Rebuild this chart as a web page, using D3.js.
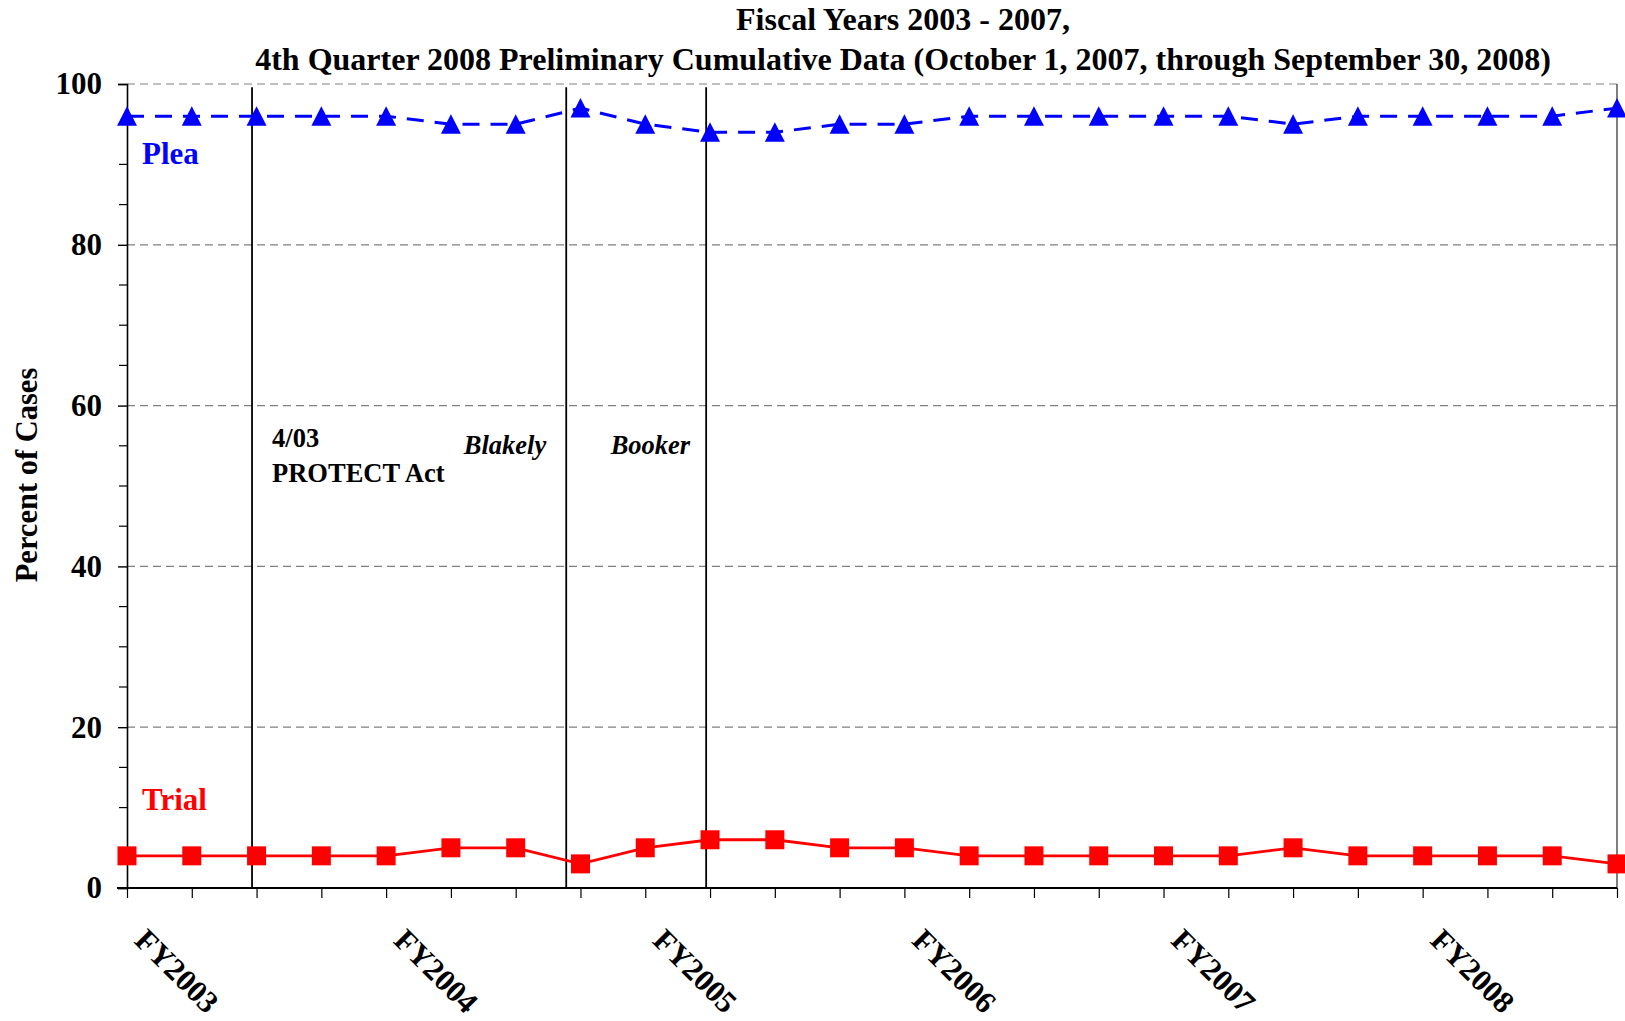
<!DOCTYPE html>
<html>
<head>
<meta charset="utf-8">
<script src="https://cdn.jsdelivr.net/npm/d3@7"></script>
<style>
  html, body { margin: 0; padding: 0; background: #fff; }
  svg { display: block; }
  text { font-family: "Liberation Serif", "Times New Roman", serif; font-weight: bold; }
</style>
</head>
<body>
<svg id="chart" width="1625" height="1021"></svg>
<script>
// ---------- data ----------
const quarters = [
  "FY2003 Q1","FY2003 Q2","FY2003 Q3","FY2003 Q4",
  "FY2004 Q1","FY2004 Q2","FY2004 Q3","FY2004 Q4",
  "FY2005 Q1","FY2005 Q2","FY2005 Q3","FY2005 Q4",
  "FY2006 Q1","FY2006 Q2","FY2006 Q3","FY2006 Q4",
  "FY2007 Q1","FY2007 Q2","FY2007 Q3","FY2007 Q4",
  "FY2008 Q1","FY2008 Q2","FY2008 Q3","FY2008 Q4"
];
const pleaValues  = [96,96,96,96,96,95,95,97,95,94,94,95,95,96,96,96,96,96,95,96,96,96,96,97];
const trialValues = [4,4,4,4,4,5,5,3,5,6,6,5,5,4,4,4,4,4,5,4,4,4,4,3];
const fyLabels = ["FY2003","FY2004","FY2005","FY2006","FY2007","FY2008"];
const fyLabelQuarterIndex = [0,4,8,12,16,20];
const yMajorTicks = [0,20,40,60,80,100];
const yMinorTicks = [5,10,15,25,30,35,45,50,55,65,70,75,85,90,95];
// event dates, as position on the quarter axis
const eventPositions = [1.93, 6.78, 8.94];
const titleLines = [
  "Fiscal Years 2003 - 2007,",
  "4th Quarter 2008 Preliminary Cumulative Data (October 1, 2007, through September 30, 2008)"
];

// ---------- layout ----------
const mLeft = 127, mRight = 1617, mTop = 84, mBottom = 888;
const svg = d3.select("#chart");
svg.append("rect").attr("width",1625).attr("height",1021).attr("fill","#fff");

const x = d3.scaleLinear().domain([0, quarters.length - 1]).range([mLeft, mRight]);
const y = d3.scaleLinear().domain([0, 100]).range([mBottom, mTop]);

// gridlines
svg.append("g").selectAll("line").data(yMajorTicks.filter(d => d > 0)).join("line")
  .attr("x1", mLeft).attr("x2", mRight)
  .attr("y1", d => y(d)).attr("y2", d => y(d))
  .attr("stroke", "#808080").attr("stroke-width", 1.2).attr("stroke-dasharray", "8,5");

// right border
svg.append("line").attr("x1", mRight).attr("x2", mRight).attr("y1", mTop).attr("y2", mBottom)
  .attr("stroke", "#555").attr("stroke-width", 1.5);

// event lines
svg.append("g").selectAll("line").data(eventPositions).join("line")
  .attr("x1", d => x(d)).attr("x2", d => x(d))
  .attr("y1", y(99.6)).attr("y2", mBottom)
  .attr("stroke", "#000").attr("stroke-width", 1.8);

// y axis
const yAxis = d3.axisLeft(y).tickValues(yMajorTicks).tickSize(9).tickPadding(16).tickFormat(d3.format("d"));
const gy = svg.append("g").attr("transform", `translate(${mLeft},0)`).call(yAxis);
gy.select(".domain").attr("stroke", "#000").attr("stroke-width", 1.6);
gy.selectAll(".tick line").attr("stroke", "#000").attr("stroke-width", 1.4);
gy.selectAll(".tick text").attr("font-size", 31).attr("fill", "#000")
  .attr("font-family", "'Liberation Serif', 'Times New Roman', serif").attr("font-weight", "bold");
svg.append("g").selectAll("line").data(yMinorTicks).join("line")
  .attr("x1", mLeft - 8).attr("x2", mLeft)
  .attr("y1", d => y(d)).attr("y2", d => y(d))
  .attr("stroke", "#000").attr("stroke-width", 1.2);

// x axis
const xAxis = d3.axisBottom(x).tickValues(d3.range(quarters.length)).tickSize(10).tickFormat("");
const gx = svg.append("g").attr("transform", `translate(0,${mBottom})`).call(xAxis);
gx.select(".domain").attr("stroke", "#000").attr("stroke-width", 1.8).attr("d", `M${mLeft - 10},0H${mRight}`);
gx.selectAll(".tick line").attr("stroke", "#000").attr("stroke-width", 1.2);

// FY labels
svg.append("g").selectAll("text").data(fyLabels).join("text")
  .attr("transform", (d, i) => `translate(${x(fyLabelQuarterIndex[i]) + 6},942) rotate(45)`)
  .attr("font-size", 31).attr("fill", "#000")
  .text(d => d);

// y axis title
svg.append("text")
  .attr("transform", `translate(37,475) rotate(-90)`)
  .attr("text-anchor", "middle").attr("font-size", 30.5).attr("fill", "#000")
  .text("Percent of Cases");

// title
svg.append("g").selectAll("text").data(titleLines).join("text")
  .attr("x", 903).attr("y", (d, i) => i === 0 ? 30 : 70)
  .attr("text-anchor", "middle").attr("font-size", 32).attr("fill", "#000")
  .text(d => d);

// lines
const line = vals => d3.line().x((d, i) => x(i)).y(d => y(d))(vals);
svg.append("path").attr("d", line(trialValues))
  .attr("fill", "none").attr("stroke", "#FF0000").attr("stroke-width", 2.8);
svg.append("path").attr("d", line(pleaValues))
  .attr("fill", "none").attr("stroke", "#0000FF").attr("stroke-width", 3)
  .attr("stroke-dasharray", "17,11");

// markers
const triangle = { draw(ctx, size) { const s = Math.sqrt(size) / 2;
  ctx.moveTo(0, -s); ctx.lineTo(s, s * 0.95); ctx.lineTo(-s, s * 0.95); ctx.closePath(); } };
svg.append("g").selectAll("path").data(pleaValues).join("path")
  .attr("transform", (d, i) => `translate(${x(i)},${y(d)})`)
  .attr("d", d3.symbol().type(triangle).size(20 * 20))
  .attr("fill", "#0000FF");
svg.append("g").selectAll("path").data(trialValues).join("path")
  .attr("transform", (d, i) => `translate(${x(i)},${y(d)})`)
  .attr("d", d3.symbol().type(d3.symbolSquare).size(19 * 19))
  .attr("fill", "#FF0000");

// series labels
svg.append("text").attr("x", 142).attr("y", 164).attr("font-size", 31).attr("fill", "#0000FF").text("Plea");
svg.append("text").attr("x", 142).attr("y", 810).attr("font-size", 31).attr("fill", "#FF0000").text("Trial");

// event annotations
svg.append("text").attr("x", x(eventPositions[0]) + 20).attr("y", 447).attr("font-size", 26.5).attr("fill", "#000").text("4/03");
svg.append("text").attr("x", x(eventPositions[0]) + 20).attr("y", 482).attr("font-size", 26.5).attr("fill", "#000").text("PROTECT Act");
svg.append("text").attr("x", x(eventPositions[1]) - 20).attr("y", 454).attr("text-anchor", "end")
  .attr("font-size", 26.5).attr("font-style", "italic").attr("fill", "#000").text("Blakely");
svg.append("text").attr("x", x(eventPositions[2]) - 16).attr("y", 454).attr("text-anchor", "end")
  .attr("font-size", 26.5).attr("font-style", "italic").attr("fill", "#000").text("Booker");
</script>
</body>
</html>
